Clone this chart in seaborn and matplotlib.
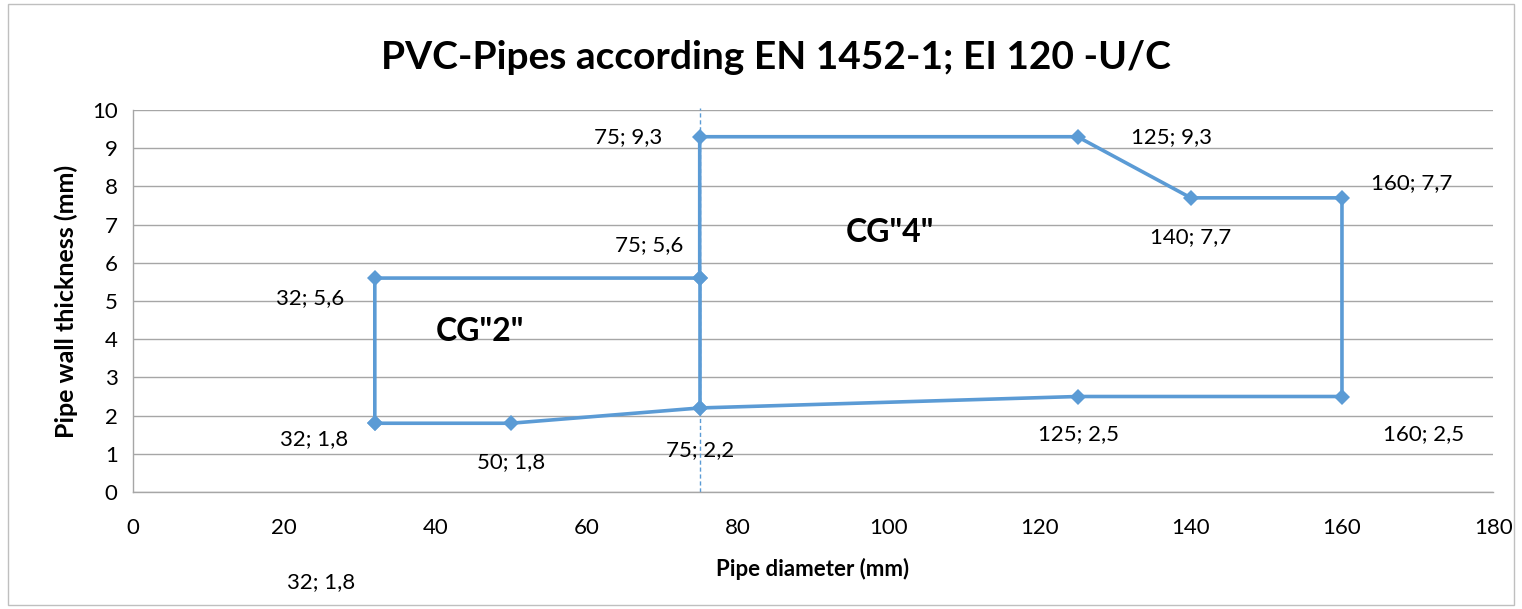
import matplotlib
matplotlib.use("Agg")
import matplotlib.pyplot as plt
import seaborn as sns
import pandas as pd
from matplotlib.patches import Rectangle

# data: outline of the approved range (diameter mm, wall thickness mm)
path_x = [32, 50, 75, 125, 160, 160, 140, 125, 75, 75, 32, 32]
path_y = [1.8, 1.8, 2.2, 2.5, 2.5, 7.7, 7.7, 9.3, 9.3, 5.6, 5.6, 1.8]
split_x = [75, 75]
split_y = [5.6, 2.2]

# data labels: point and pixel offset of the text
label_x = [32, 32, 50, 75, 75, 75, 125, 140, 160, 125, 160, 32]
label_y = [5.6, 1.8, 1.8, 2.2, 5.6, 9.3, 9.3, 7.7, 7.7, 2.5, 2.5, 1.8]
label_dx = [-31, -61, 0, 0, -16, -37, 53, 0, 29, 1, 41, -54]
label_dy = [-20, -16, -39, -42, 33, 0, 0, -39, 15, -38, -38, -159]
label_ha = ["right", "center", "center", "center", "right", "right", "left",
            "center", "left", "center", "left", "center"]

line_color = "#5b9bd5"
grid_color = "#a6a6a6"

sns.set_theme(style="white")
plt.rcParams["font.family"] = ["Lato", "DejaVu Sans"]
plt.rcParams.update({"text.color": "black", "axes.labelcolor": "black",
                     "xtick.labelcolor": "black", "ytick.labelcolor": "black"})

fig = plt.figure(figsize=(15.22, 6.09), dpi=100)
ax = fig.add_axes([0.0874, 0.1921, 0.8936, 0.6273])

df = pd.DataFrame({"d": path_x, "s": path_y})
sns.lineplot(data=df, x="d", y="s", sort=False, estimator=None, ax=ax,
             color=line_color, linewidth=2.6, marker="D", markersize=8,
             markeredgewidth=0)
sns.lineplot(x=split_x, y=split_y, sort=False, estimator=None, ax=ax,
             color=line_color, linewidth=2.6, marker="D", markersize=8,
             markeredgewidth=0)

ax.axvline(75, ymin=0, ymax=1.005, color=line_color, linewidth=1,
           linestyle=(0, (3, 2)), clip_on=False, zorder=1)

for x, y, dx, dy, ha in zip(label_x, label_y, label_dx, label_dy, label_ha):
    txt = f"{x}; {str(y).replace('.', ',')}"
    ax.annotate(txt, (x, y), xytext=(dx, dy), textcoords="offset pixels",
                ha=ha, va="center", fontsize=16, color="black",
                annotation_clip=False)

ax.text(45.9, 4.19, 'CG"2"', fontsize=23, fontweight="bold", ha="center", va="center")
ax.text(100.2, 6.78, 'CG"4"', fontsize=23, fontweight="bold", ha="center", va="center")

ax.set_xlim(0, 180)
ax.set_ylim(0, 10)
ax.set_xticks(range(0, 181, 20))
ax.set_yticks(range(0, 11))
ax.yaxis.grid(True, color=grid_color, linewidth=1)
ax.xaxis.grid(False)
ax.set_axisbelow(True)
for side in ["top", "right"]:
    ax.spines[side].set_visible(False)
for side in ["left", "bottom"]:
    ax.spines[side].set_color(grid_color)
    ax.spines[side].set_linewidth(1)
ax.tick_params(axis="both", which="both", length=7, width=1, color=grid_color,
               labelsize=16, labelcolor="black", direction="out", pad=12)
ax.tick_params(axis="y", pad=4)

ax.set_xlabel("Pipe diameter (mm)", fontsize=16, fontweight="bold", labelpad=14)
ax.set_ylabel("Pipe wall thickness (mm)", fontsize=18, fontweight="bold", labelpad=10)
fig.suptitle("PVC-Pipes according EN 1452-1; EI 120 -U/C", fontsize=28,
             fontweight="bold", x=0.51, y=0.905, va="center", color="black")

fig.patches.append(Rectangle((0.005, 0.006), 0.99, 0.988, transform=fig.transFigure,
                             fill=False, edgecolor="#bfbfbf", linewidth=1))

fig.savefig("out.png", dpi=100)
